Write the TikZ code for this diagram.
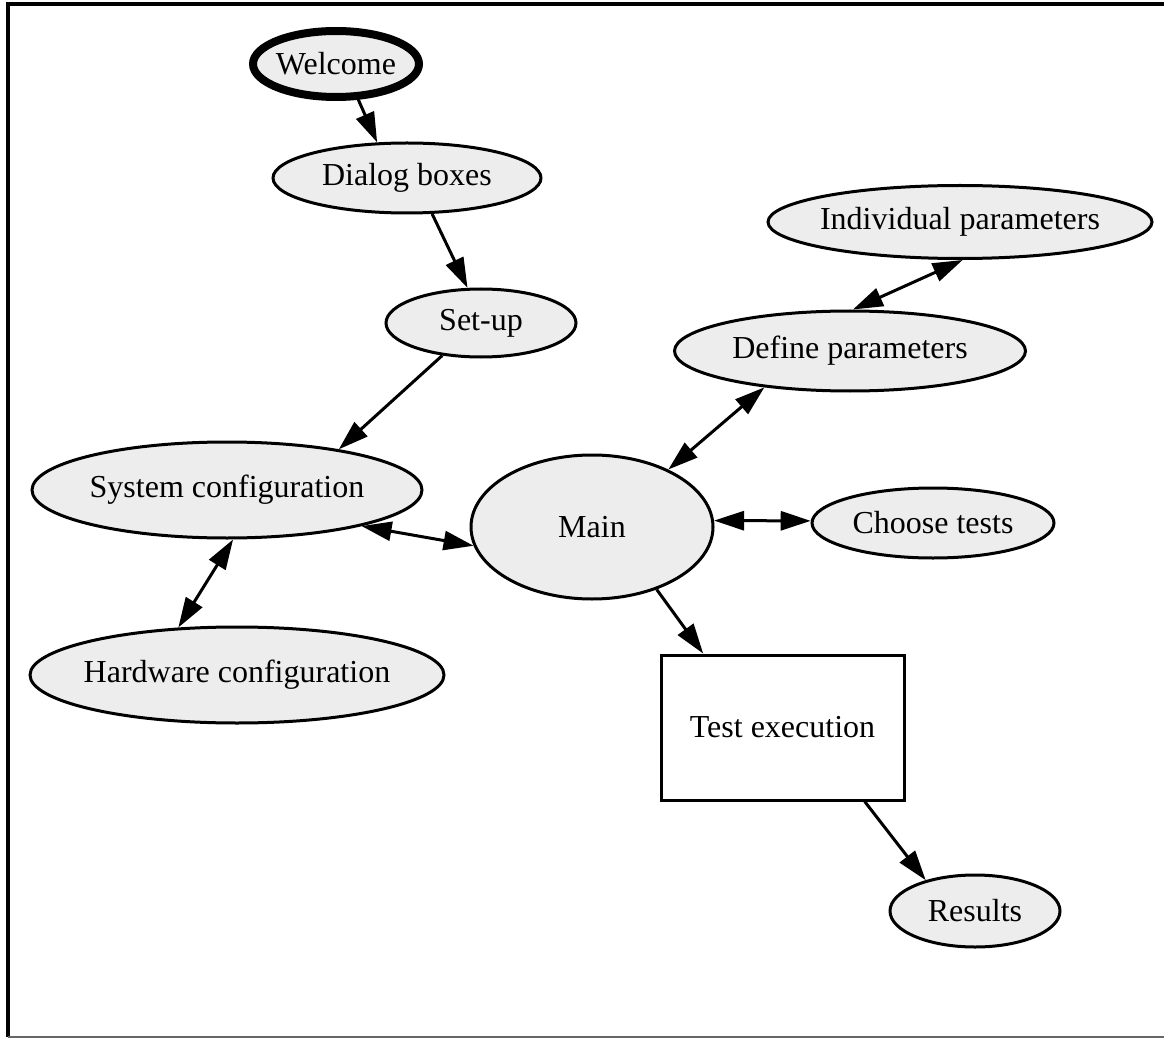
\documentclass[tikz,border=0pt]{standalone}
\usepackage{fontspec}
\setmainfont{Liberation Serif}
\usetikzlibrary{arrows.meta,shapes.geometric}

\definecolor{nodefill}{HTML}{EDEDED}

% the label is set in a zero-width box so that the given size fixes the outline
\newcommand{\lbl}[1]{\makebox[0pt]{#1}}

\tikzset{
  ell/.style={ellipse, draw=black, line width=3pt, fill=nodefill,
    inner sep=0pt, font=\fontsize{32}{36}\selectfont},
  startell/.style={ell, line width=8pt},
  box/.style={rectangle, draw=black, line width=3pt, fill=white,
    inner sep=0pt, font=\fontsize{32}{36}\selectfont},
  link/.style={line width=3pt, -{Triangle[length=30pt,width=19pt]}},
  both/.style={line width=3pt, {Triangle[length=30pt,width=19pt]}-{Triangle[length=30pt,width=19pt]}},
}

\begin{document}
\begin{tikzpicture}[x=1pt,y=-1pt]
\useasboundingbox (0,0) rectangle (1164,1040);

% frame
\draw[line width=3.5pt] (1164,4) -- (8,4) -- (8,1037);
\draw[line width=1.5pt, black!60] (8,1037) -- (1164,1037);

% nodes
\node[startell, minimum width=166pt, minimum height=66pt] (welcome) at (336,64) {\lbl{Welcome}};
\node[ell, minimum width=268pt, minimum height=70pt] (dialog) at (407,178) {\lbl{Dialog boxes}};
\node[ell, minimum width=190pt, minimum height=68pt] (setup) at (481,323) {\lbl{Set-up}};
\node[ell, minimum width=384pt, minimum height=73pt] (indiv) at (960,222) {\lbl{Individual parameters}};
\node[ell, minimum width=351pt, minimum height=80pt] (define) at (850,351) {\lbl{Define parameters}};
\node[ell, minimum width=390pt, minimum height=96pt] (sys) at (227,490) {\lbl{System configuration}};
\node[ell, minimum width=242pt, minimum height=144pt] (main) at (592,527) {\lbl{Main}};
\node[ell, minimum width=242pt, minimum height=70pt] (choose) at (933,523) {\lbl{Choose tests}};
\node[ell, minimum width=414pt, minimum height=96pt] (hw) at (237,675) {\lbl{Hardware configuration}};
\node[box, minimum width=243pt, minimum height=145pt] (test) at (782.5,727.5) {\lbl{Test execution}};
\node[ell, minimum width=170pt, minimum height=72pt] (results) at (975,911) {\lbl{Results}};

% connectors
\draw[link] (welcome.-58) -- (dialog.130);
\draw[link] (dialog.-55) -- (setup.111);
\draw[link] (setup.-140) -- (sys.20);
\draw[both] (define.86) -- (indiv.-86);
\draw[both] (define.-157) -- (main.37);
\draw[both] (sys.-15) -- (main.-171);
\draw[both] (sys.-83) -- (hw.141);
\draw[both] (main.3) -- (choose.179);
\draw[link] (main.-44) -- (test.137);
\draw[link] (test.-42) -- (results.148);
\end{tikzpicture}
\end{document}
